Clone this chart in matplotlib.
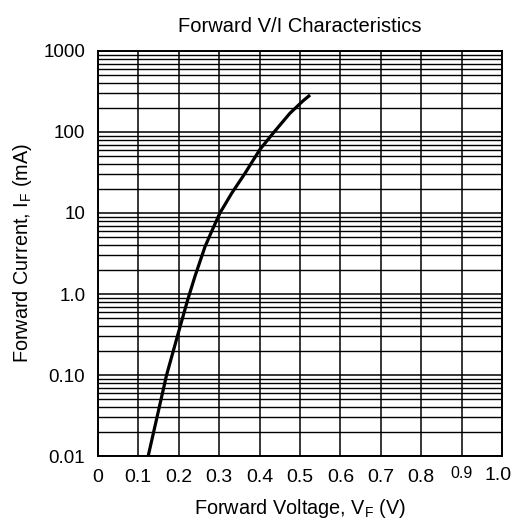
import numpy as np
import matplotlib
matplotlib.use('Agg')
import matplotlib.pyplot as plt
import matplotlib.transforms as mtransforms
from matplotlib.ticker import FixedLocator, LogLocator, NullFormatter

plt.rcParams['font.family'] = ['Liberation Sans', 'DejaVu Sans']
plt.rcParams['mathtext.fontset'] = 'custom'
plt.rcParams['mathtext.rm'] = 'Liberation Sans'

# Forward V/I curve
voltage = [0.1245, 0.170, 0.199, 0.222, 0.240, 0.265, 0.283, 0.302, 0.331, 0.364, 0.401, 0.436, 0.475, 0.507, 0.525]
current = [0.01, 0.1, 0.33, 0.84, 1.64, 3.83, 6.17, 10, 17.5, 30.9, 61, 100, 170, 241, 286]

x_ticks = [0, 0.1, 0.2, 0.3, 0.4, 0.5, 0.6, 0.7, 0.8, 0.9, 1.0]
x_labels = ['0', '0.1', '0.2', '0.3', '0.4', '0.5', '0.6', '0.7', '0.8', '0.9', '1.0']
y_ticks = [0.01, 0.1, 1, 10, 100, 1000]
y_labels = ['0.01', '0.10', '1.0', '10', '100', '1000']

fig = plt.figure(figsize=(5.15, 5.20), dpi=100)
ax = fig.add_axes([0.190, 0.123, 0.785, 0.779])

ax.set_yscale('log')
ax.set_xlim(0, 1.0)
ax.set_ylim(0.01, 1000)

ax.plot(voltage, current, color='k', linewidth=2.3, zorder=3,
        solid_joinstyle='round', solid_capstyle='butt')

ax.xaxis.set_major_locator(FixedLocator(x_ticks))
ax.set_xticklabels(x_labels)
ax.yaxis.set_major_locator(FixedLocator(y_ticks))
ax.set_yticklabels(y_labels)
ax.yaxis.set_minor_locator(LogLocator(base=10, subs=np.arange(2, 10)))
ax.yaxis.set_minor_formatter(NullFormatter())

ax.grid(True, which='major', axis='both', color='k', linewidth=1.1)
ax.grid(True, which='minor', axis='y', color='k', linewidth=1.0)
ax.tick_params(which='both', length=0)
ax.tick_params(axis='x', labelsize=14, pad=9)
ax.tick_params(axis='y', labelsize=13.5, pad=9)
for s in ax.spines.values():
    s.set_linewidth(1.4)

# the datasheet has 0.9 a bit smaller and raised, 1.0 pulled in
xt = ax.get_xticklabels()
xt[9].set_fontsize(11.5)
xt[9].set_transform(xt[9].get_transform() + mtransforms.ScaledTranslation(0, 1.5 / 72, fig.dpi_scale_trans))
xt[10].set_transform(xt[10].get_transform() + mtransforms.ScaledTranslation(-3 / 72, 1 / 72, fig.dpi_scale_trans))

ax.set_title('Forward V/I Characteristics', fontsize=14.5, pad=14)
ax.set_xlabel(r'Forward Voltage, V$_\mathrm{F}$ (V)', fontsize=14.3, labelpad=8)
ax.set_ylabel(r'Forward Current, I$_\mathrm{F}$ (mA)', fontsize=14.3, labelpad=7)

plt.savefig('out.png', dpi=100)
